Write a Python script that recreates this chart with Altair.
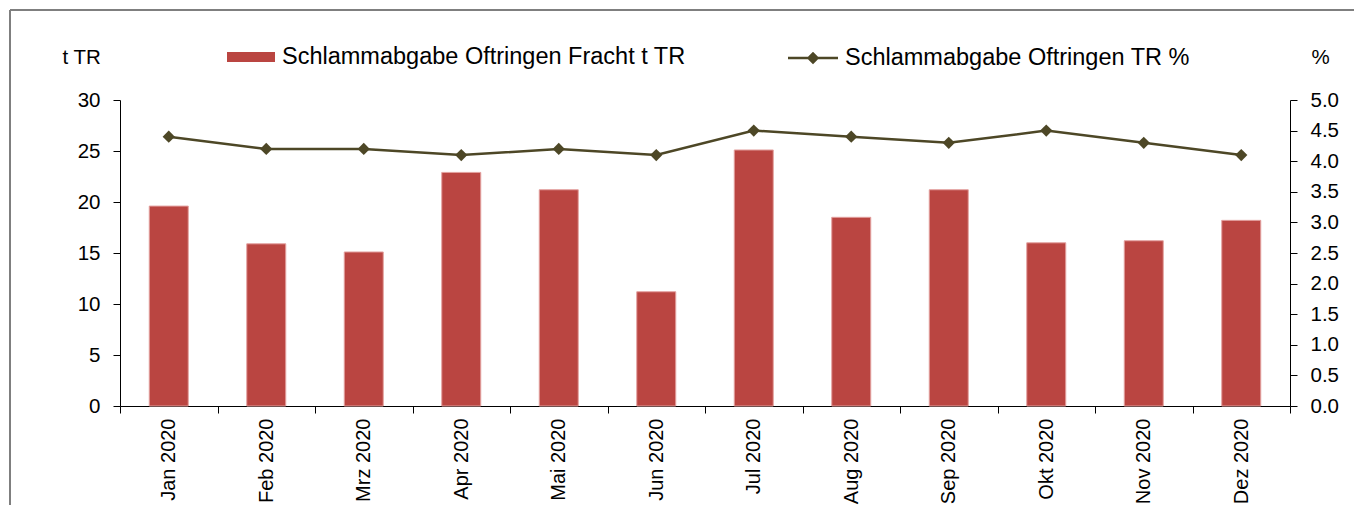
import altair as alt
import pandas as pd

months = ["Jan 2020", "Feb 2020", "Mrz 2020", "Apr 2020", "Mai 2020", "Jun 2020",
          "Jul 2020", "Aug 2020", "Sep 2020", "Okt 2020", "Nov 2020", "Dez 2020"]
fracht = [19.6, 15.9, 15.1, 22.9, 21.2, 11.2, 25.1, 18.5, 21.2, 16.0, 16.2, 18.2]
tr_pct = [4.4, 4.2, 4.2, 4.1, 4.2, 4.1, 4.5, 4.4, 4.3, 4.5, 4.3, 4.1]
left_ticks = [0, 5, 10, 15, 20, 25, 30]
right_ticks = [0, 0.5, 1.0, 1.5, 2.0, 2.5, 3.0, 3.5, 4.0, 4.5, 5.0]

BAR_NAME = "Schlammabgabe Oftringen Fracht t TR"
LINE_NAME = "Schlammabgabe Oftringen TR %"
BAR_COLOR = "#BA4541"
LINE_COLOR = "#4D4726"
FONT = "Liberation Sans"
TICK_FS = 20.5
LEG_FS = 23.5

W, H = 1170, 306

df = pd.DataFrame({"Monat": months, "Fracht": fracht, "TR": tr_pct})

xscale = alt.Scale(domain=months, paddingInner=0, paddingOuter=0)
xaxis = alt.Axis(labelAngle=-90, labelAlign="right", labelBaseline="middle",
                 labelPadding=5, tickSize=7, tickBand="extent",
                 labelFontSize=20, labelFont=FONT, labelColor="#000",
                 domainColor="#000", tickColor="#000", labelLimit=0, grid=False)

bars = alt.Chart(df).mark_bar(stroke="#E3A19F", strokeWidth=1,
                              width=alt.RelativeBandSize(0.4)).encode(
    x=alt.X("Monat:N", sort=months, title=None, scale=xscale, axis=xaxis),
    y=alt.Y("Fracht:Q", scale=alt.Scale(domain=[0, 30], nice=False),
            axis=alt.Axis(values=left_ticks, title="t TR", titleAngle=0,
                          titleX=-58, titleY=-43, titleAlign="left",
                          titleBaseline="middle", titleFontSize=TICK_FS,
                          titleFontWeight="normal", titleFont=FONT,
                          labelFontSize=TICK_FS, labelFont=FONT, labelColor="#000",
                          tickSize=7, labelPadding=13, grid=False,
                          domainColor="#000", tickColor="#000")),
    color=alt.Color("s:N", scale=alt.Scale(domain=[BAR_NAME], range=[BAR_COLOR]),
                    legend=alt.Legend(title=None, orient="none", legendX=107, legendY=-67,
                                      symbolType="M-1,-0.21L1,-0.21L1,0.21L-1,0.21Z",
                                      symbolSize=2304, symbolFillColor=BAR_COLOR,
                                      symbolStrokeWidth=0, labelFontSize=LEG_FS,
                                      labelFont=FONT, labelColor="#000", labelOffset=7,
                                      padding=0, labelLimit=0)),
).transform_calculate(s=f"'{BAR_NAME}'")

line = alt.Chart(df).mark_line(
    strokeWidth=2.5,
    point=alt.OverlayMarkDef(shape="diamond", size=150, filled=True, color=LINE_COLOR),
).encode(
    x=alt.X("Monat:N", sort=months, title=None, scale=xscale, axis=xaxis),
    y=alt.Y("TR:Q", scale=alt.Scale(domain=[0, 5], nice=False),
            axis=alt.Axis(orient="right", values=right_ticks, format=".1f", title="%",
                          titleAngle=0, titleX=21, titleY=-43, titleAlign="left",
                          titleBaseline="middle", titleFontSize=TICK_FS,
                          titleFontWeight="normal", titleFont=FONT,
                          labelFontSize=TICK_FS, labelFont=FONT, labelColor="#000",
                          tickSize=7, labelPadding=13, grid=False,
                          domainColor="#000", tickColor="#000")),
    color=alt.Color("s:N", scale=alt.Scale(domain=[LINE_NAME], range=[LINE_COLOR]),
                    legend=alt.Legend(title=None, orient="none", legendX=668, legendY=-67,
                                      symbolType="M-1,-0.05L1,-0.05L1,0.05L-1,0.05Z M0,-0.25L0.25,0L0,0.25L-0.25,0Z",
                                      symbolSize=2500, symbolFillColor=LINE_COLOR,
                                      symbolStrokeColor=LINE_COLOR, symbolStrokeWidth=0,
                                      symbolOpacity=1,
                                      labelFontSize=LEG_FS, labelFont=FONT, labelColor="#000",
                                      labelOffset=7, padding=0, labelLimit=0)),
).transform_calculate(s=f"'{LINE_NAME}'")

border_v = alt.Chart(df).mark_rule(color="#7F7F7F", strokeWidth=1.5).encode(
    x=alt.value(-110), y=alt.value(-90), y2=alt.value(H + 120))
border_h = alt.Chart(df).mark_rule(color="#7F7F7F", strokeWidth=1.5).encode(
    x=alt.value(-110), x2=alt.value(W + 80), y=alt.value(-90))

chart = alt.layer(border_v, border_h, bars, line).resolve_scale(
    y="independent", color="independent"
).properties(
    width=W, height=H,
    background="white",
    autosize=alt.AutoSizeParams(type="none"),
    padding={"left": 112, "top": 92, "right": 64, "bottom": 99},
).configure_view(stroke=None, strokeWidth=0)

chart.save("out.html", embed_options={"renderer": "svg", "actions": False})
